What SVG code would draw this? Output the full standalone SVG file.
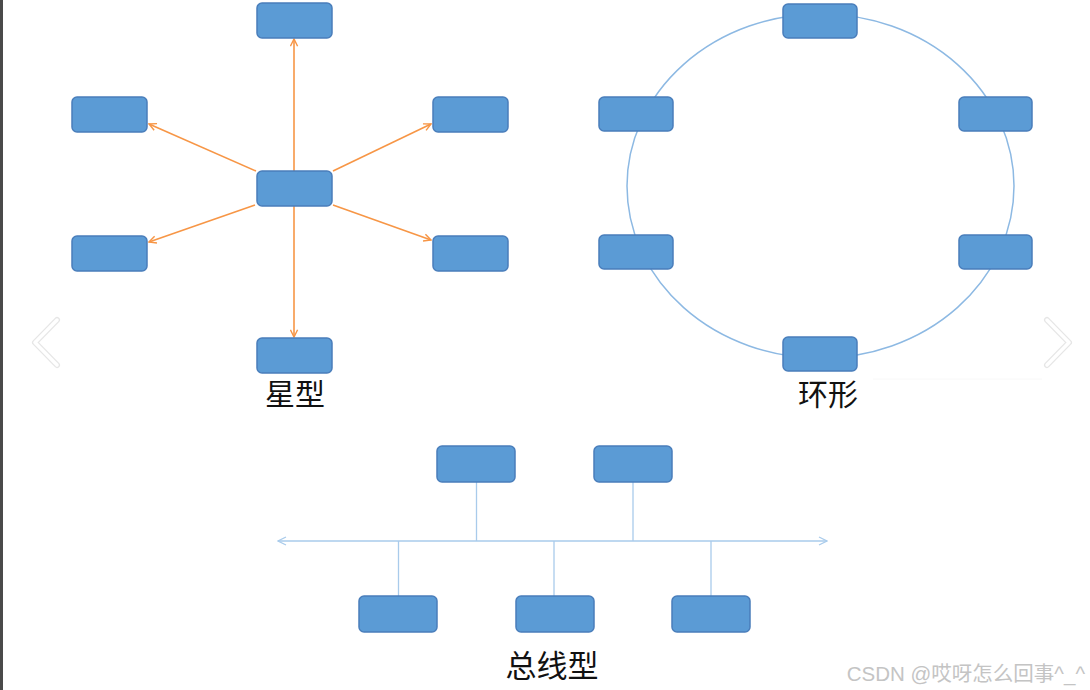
<svg xmlns="http://www.w3.org/2000/svg" width="1090" height="690" viewBox="0 0 1090 690">
<style>
.node{fill:#5B9BD5;stroke:#4A7EBB;stroke-width:1.5}
.star{stroke:#F79646;stroke-width:1.6;fill:none}
.ring{stroke:#8DB9E3;stroke-width:1.5;fill:none}
.bus{stroke:#A9CBEB;stroke-width:1.3;fill:none}
.lbl{font-family:"Noto Sans CJK SC","Noto Sans",sans-serif;fill:#111;text-anchor:middle}
.chev-s{stroke:#E6E6E6;stroke-width:6;fill:none;stroke-linecap:round;stroke-linejoin:round}
.chev{stroke:#FFFFFF;stroke-width:3.5;fill:none;stroke-linecap:round;stroke-linejoin:round}
</style>
<defs>
<marker id="oa" viewBox="0 0 10 10" refX="9" refY="5" markerWidth="9" markerHeight="9" markerUnits="userSpaceOnUse" orient="auto-start-reverse">
<path d="M1,1 L9,5 L1,9" fill="none" stroke="#F79646" stroke-width="1.6"/>
</marker>
<marker id="ba" viewBox="0 0 10 10" refX="9" refY="5" markerWidth="10" markerHeight="10" markerUnits="userSpaceOnUse" orient="auto-start-reverse">
<path d="M1,1 L9,5 L1,9" fill="none" stroke="#A9CBEB" stroke-width="1.3"/>
</marker>
</defs>
<rect x="0" y="0" width="1090" height="690" fill="#FFFFFF"/>
<rect x="0" y="0" width="3" height="690" fill="#4A4A4A"/>

<g id="connectors">
<line class="star" x1="294" y1="171" x2="294" y2="39" marker-end="url(#oa)"/>
<line class="star" x1="294" y1="206" x2="294" y2="337" marker-end="url(#oa)"/>
<line class="star" x1="256" y1="171" x2="149" y2="124" marker-end="url(#oa)"/>
<line class="star" x1="255" y1="205" x2="149" y2="242" marker-end="url(#oa)"/>
<line class="star" x1="333" y1="171" x2="431" y2="124" marker-end="url(#oa)"/>
<line class="star" x1="333" y1="205" x2="431" y2="240" marker-end="url(#oa)"/>
<ellipse class="ring" cx="820.5" cy="186" rx="193.5" ry="172"/>
<line class="bus" x1="278" y1="541" x2="827" y2="541" marker-start="url(#ba)" marker-end="url(#ba)"/>
<line class="bus" x1="476.5" y1="482" x2="476.5" y2="541"/>
<line class="bus" x1="633" y1="482" x2="633" y2="541"/>
<line class="bus" x1="398.5" y1="541" x2="398.5" y2="596"/>
<line class="bus" x1="554" y1="541" x2="554" y2="596"/>
<line class="bus" x1="711" y1="541" x2="711" y2="596"/>
</g>

<g id="star-top"><rect class="node" x="257" y="3" width="75" height="35" rx="5"/></g>
<g id="star-left-upper"><rect class="node" x="72" y="97" width="75" height="35" rx="5"/></g>
<g id="star-right-upper"><rect class="node" x="433" y="97" width="75" height="35" rx="5"/></g>
<g id="star-center"><rect class="node" x="257" y="171" width="75" height="35" rx="5"/></g>
<g id="star-left-lower"><rect class="node" x="72" y="236" width="75" height="35" rx="5"/></g>
<g id="star-right-lower"><rect class="node" x="433" y="236" width="75" height="35" rx="5"/></g>
<g id="star-bottom"><rect class="node" x="257" y="338" width="75" height="35" rx="5"/></g>
<g id="star-label"><text class="lbl" x="295" y="405" font-size="30">星型</text></g>

<g id="ring-top"><rect class="node" x="783" y="4" width="74" height="34" rx="5"/></g>
<g id="ring-left-upper"><rect class="node" x="599" y="97" width="74" height="34" rx="5"/></g>
<g id="ring-right-upper"><rect class="node" x="959" y="97" width="73" height="34" rx="5"/></g>
<g id="ring-left-lower"><rect class="node" x="599" y="235" width="74" height="34" rx="5"/></g>
<g id="ring-right-lower"><rect class="node" x="959" y="235" width="73" height="34" rx="5"/></g>
<g id="ring-bottom"><rect class="node" x="783" y="337" width="74" height="34" rx="5"/></g>
<g id="ring-label"><text class="lbl" x="828" y="405" font-size="30">环形</text></g>

<g id="bus-top-1"><rect class="node" x="437" y="446" width="78" height="36" rx="5"/></g>
<g id="bus-top-2"><rect class="node" x="594" y="446" width="78" height="36" rx="5"/></g>
<g id="bus-bottom-1"><rect class="node" x="359" y="596" width="78" height="36" rx="5"/></g>
<g id="bus-bottom-2"><rect class="node" x="516" y="596" width="78" height="36" rx="5"/></g>
<g id="bus-bottom-3"><rect class="node" x="672" y="596" width="78" height="36" rx="5"/></g>
<g id="bus-label"><text class="lbl" x="552" y="677" font-size="31">总线型</text></g>

<line x1="873" y1="379" x2="1042" y2="379" stroke="#F8F8F8" stroke-width="1"/>
<g id="nav-left">
<polyline class="chev-s" points="57,320 35,342.5 57,365"/>
<polyline class="chev" points="57,320 35,342.5 57,365"/>
</g>
<g id="nav-right">
<polyline class="chev-s" points="1047,320 1069,342.5 1047,365"/>
<polyline class="chev" points="1047,320 1069,342.5 1047,365"/>
</g>
<text x="1085" y="681" font-size="20.5" text-anchor="end" fill="#C4C4C4" font-family="'Liberation Sans','Noto Sans CJK SC',sans-serif">CSDN @哎呀怎么回事^_^</text>
</svg>
